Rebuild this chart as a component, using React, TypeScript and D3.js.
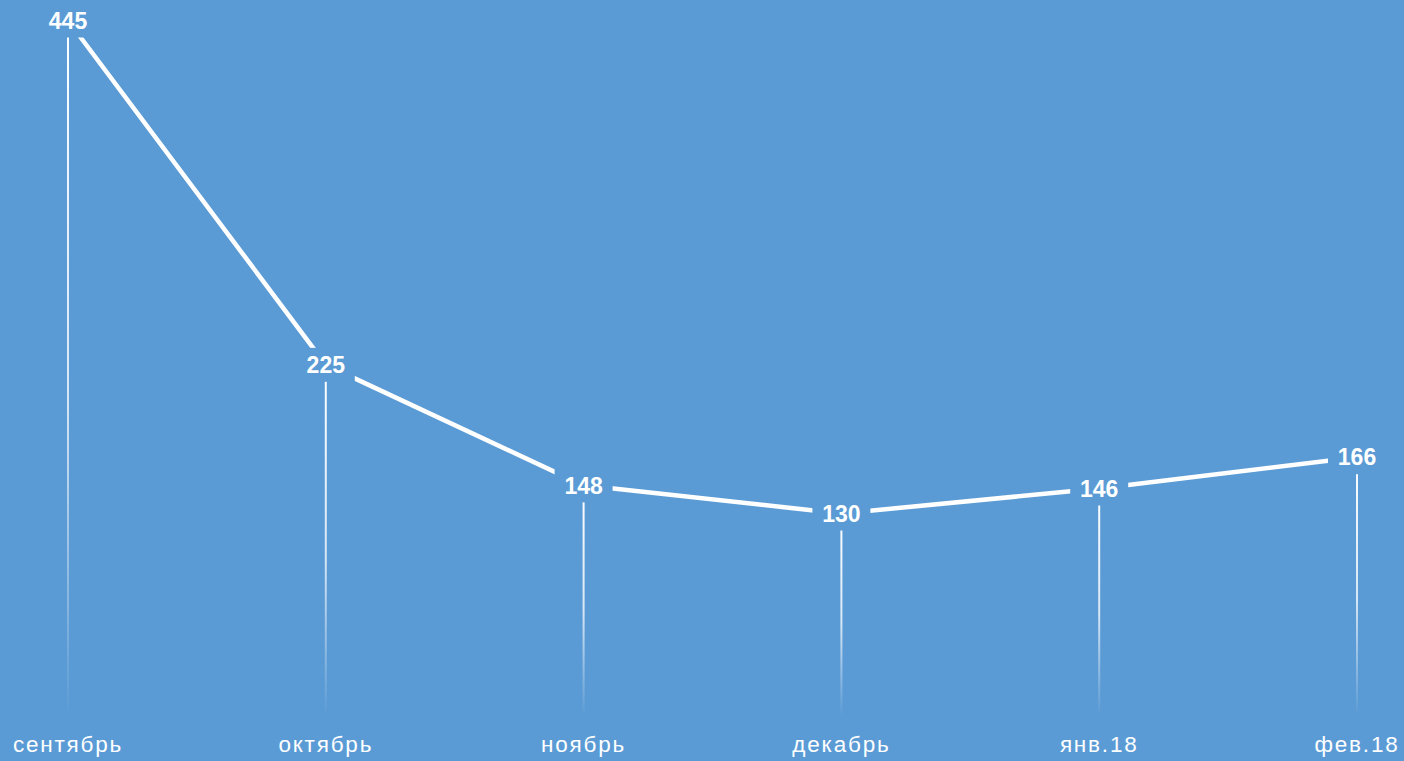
import React from "react";
import * as d3 from "d3";

const months = ["сентябрь", "октябрь", "ноябрь", "декабрь", "янв.18", "фев.18"];
const values = [445, 225, 148, 130, 146, 166];

const W = 1404;
const H = 761;
const BG = "#5b9bd5";

export default function App() {
  const x = d3.scalePoint<string>().domain(months).range([68, 1357]);
  const y = d3.scaleLinear().domain([0, 445]).range([717, 20.5]);
  const data = months.map((m, i) => ({ m, v: values[i] }));
  const line = d3
    .line<{ m: string; v: number }>()
    .x((d) => x(d.m) as number)
    .y((d) => y(d.v));
  const bottom = 715;
  return (
    <div style={{ position: "fixed", left: 0, top: 0, width: W, height: H }}>
      <svg width={W} height={H} style={{ display: "block" }}>
        <defs>
          <linearGradient id="fade" x1="0" y1="0" x2="0" y2="1">
            <stop offset="0" stopColor="#fff" stopOpacity={1} />
            <stop offset="0.55" stopColor="#fff" stopOpacity={0.75} />
            <stop offset="1" stopColor="#fff" stopOpacity={0} />
          </linearGradient>
        </defs>
        <rect x={0} y={0} width={W} height={H} fill={BG} />
        {data.map((d) => {
          const px = x(d.m) as number;
          const py = y(d.v);
          return (
            <rect
              key={"v" + d.m}
              x={px - 1}
              y={py}
              width={2}
              height={bottom - py}
              fill="url(#fade)"
            />
          );
        })}
        <path d={line(data) || ""} fill="none" stroke="#fff" strokeWidth={4.5} strokeLinejoin="round" />
        {data.map((d) => {
          const px = x(d.m) as number;
          const py = y(d.v);
          return (
            <g key={"l" + d.m}>
              <rect x={px - 29} y={py - 17} width={58} height={34} fill={BG} />
              <text
                x={px}
                y={py}
                dy="0.36em"
                textAnchor="middle"
                fill="#fff"
                fontFamily="'Liberation Sans', Arial, sans-serif"
                fontWeight="bold"
                fontSize={23}
              >
                {d.v}
              </text>
            </g>
          );
        })}
        {months.map((m) => (
          <text
            key={"t" + m}
            x={x(m) as number}
            y={752}
            textAnchor="middle"
            fill="#fff"
            fontFamily="'Liberation Sans', Arial, sans-serif"
            fontSize={22.5}
            letterSpacing={1.8}
          >
            {m}
          </text>
        ))}
      </svg>
    </div>
  );
}
